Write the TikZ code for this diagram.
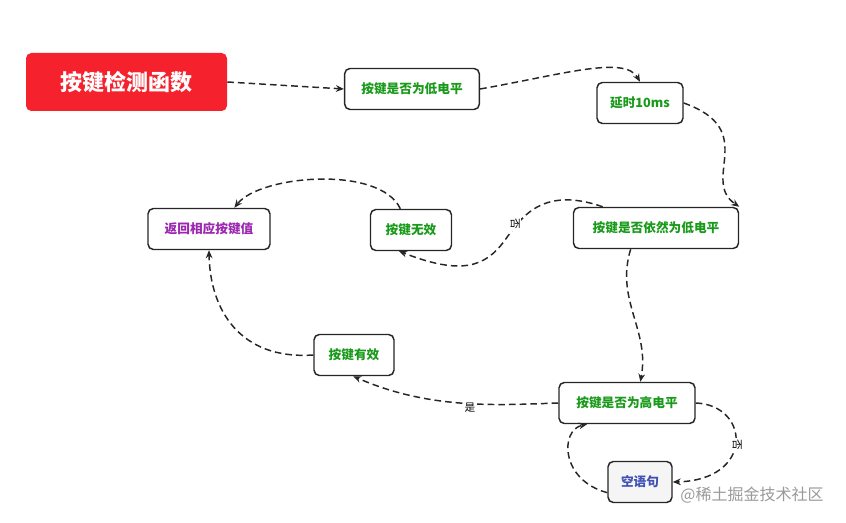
\documentclass[tikz,border=0pt]{standalone}
\usepackage{fontspec}
\newfontfamily\cjk{Noto Sans CJK SC}
\usetikzlibrary{arrows.meta}
\definecolor{tgreen}{HTML}{1A9A1A}
\definecolor{tpurple}{HTML}{9C27B0}
\definecolor{tblue}{HTML}{3F51B5}
\definecolor{tred}{HTML}{F5222D}
\tikzset{
 box/.style={draw=black!85,line width=1.1pt,rounded corners=4pt,fill=white,minimum height=30.75pt,inner sep=0pt,font=\cjk\bfseries\fontsize{9.5pt}{11pt}\selectfont,text=tgreen},
 link/.style={dashed,dash pattern=on 5pt off 3pt,line width=1.1pt,black!85,-{Stealth[length=6pt,width=5pt]}},
 lbl/.style={font=\cjk\fontsize{8pt}{9pt}\selectfont,fill=white,inner sep=1pt}
}
\begin{document}
\begin{tikzpicture}[x=0.75pt,y=-0.75pt]
\useasboundingbox (0,0) rectangle (846,523);
\node[fill=tred,rounded corners=4pt,minimum width=150.75pt,minimum height=43.5pt,text=white,font=\cjk\bfseries\fontsize{16.5pt}{18pt}\selectfont] (t) at (126.5,82) {按键检测函数};
\node[box,minimum width=101pt] (a) at (412,89) {按键是否为低电平};
\node[box,minimum width=64.5pt] (b) at (640,103) {延时10ms};
\node[box,minimum width=123.75pt] (c) at (656,228) {按键是否依然为低电平};
\node[box,minimum width=60.75pt] (d) at (411,230) {按键无效};
\node[box,minimum width=91.5pt,text=tpurple] (e) at (209,229) {返回相应按键值};
\node[box,minimum width=60pt] (f) at (354,355) {按键有效};
\node[box,minimum width=102pt] (g) at (627,403) {按键是否为高电平};
\node[box,minimum width=48pt,fill=black!4,text=tblue] (h) at (640,482) {空语句};
\node[font=\cjk\fontsize{12pt}{13pt}\selectfont,text=black!40] (w) at (752,495) {@稀土掘金技术社区};
\draw[link] (t.east) -- (a.west);
\draw[link] (a.east) .. controls (560,75) and (625,55) .. (b.north);
\draw[link] (b.east) .. controls (760,130) and (700,180) .. (c.north east|-c.north) ;
\draw[link] ([xshift=-40pt]c.north) .. controls (540,185) and (520,220) .. (505,240) .. controls (485,268) and (460,275) .. ([xshift=22pt]d.south west);
\node[lbl,rotate=-90] (n1) at (515,224) {否};
\draw[link] ([xshift=-8pt]d.north) .. controls (380,165) and (260,175) .. ([xshift=19pt]e.north);
\draw[link] ([xshift=-19pt]c.south) .. controls (615,300) and (650,330) .. ([xshift=10pt]g.north);
\draw[link] (g.west) .. controls (500,405) and (430,410) .. ([xshift=30pt]f.south west);
\node[lbl] (n2) at (470,408) {是};
\draw[link] (f.west) .. controls (240,360) and (210,310) .. (e.south);
\draw[link] (g.east) .. controls (750,405) and (755,480) .. (h.east);
\node[lbl,rotate=-90] (n3) at (737,445) {否};
\draw[link] ([yshift=-8pt]h.west) .. controls (560,480) and (560,430) .. ([xshift=-30pt]g.south);
\end{tikzpicture}
\end{document}
